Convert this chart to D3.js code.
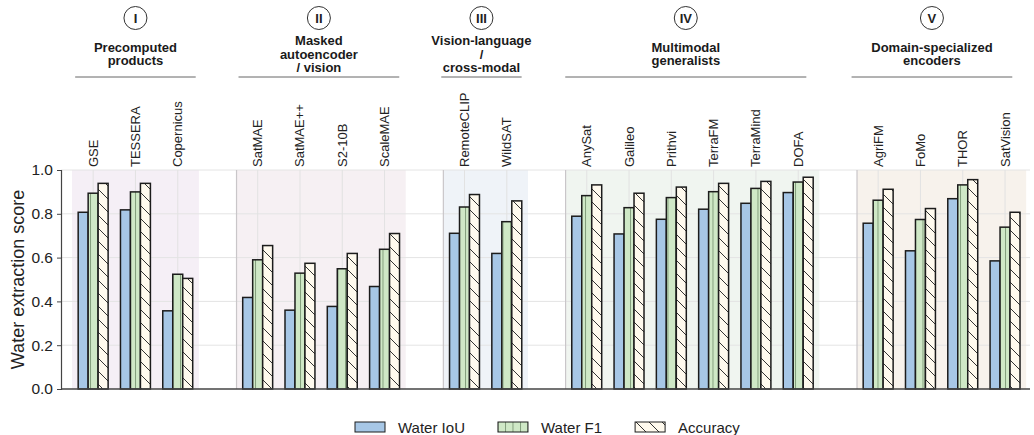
<!DOCTYPE html>
<html>
<head>
<meta charset="utf-8">
<script src="https://cdn.jsdelivr.net/npm/d3@7"></script>
<style>
  html, body { margin: 0; padding: 0; background: #fff; }
  svg { display: block; font-family: "Liberation Sans", Arial, Helvetica, sans-serif; }
</style>
</head>
<body>
<svg id="chart" width="1034" height="435"></svg>
<script>
// ---- data -------------------------------------------------------------
const groupNumerals = ["I", "II", "III", "IV", "V"];
const groupTitles = [
  ["Precomputed", "products"],
  ["Masked", "autoencoder", "/ vision"],
  ["Vision-language", "/", "cross-modal"],
  ["Multimodal", "generalists"],
  ["Domain-specialized", "encoders"]
];
const models = ["GSE", "TESSERA", "Copernicus",
  "SatMAE", "SatMAE++", "S2-10B", "ScaleMAE",
  "RemoteCLIP", "WildSAT",
  "AnySat", "Galileo", "Prithvi", "TerraFM", "TerraMind", "DOFA",
  "AgriFM", "FoMo", "THOR", "SatVision"];
const modelGroup = [0, 0, 0, 1, 1, 1, 1, 2, 2, 3, 3, 3, 3, 3, 3, 4, 4, 4, 4];
const waterIoU = [0.807, 0.818, 0.357, 0.418, 0.360, 0.377, 0.468, 0.711, 0.619,
  0.789, 0.708, 0.775, 0.821, 0.848, 0.897, 0.757, 0.631, 0.869, 0.585];
const waterF1 = [0.894, 0.900, 0.524, 0.590, 0.529, 0.549, 0.638, 0.831, 0.764,
  0.883, 0.828, 0.874, 0.901, 0.916, 0.945, 0.862, 0.774, 0.932, 0.739];
const accuracy = [0.939, 0.939, 0.505, 0.655, 0.574, 0.619, 0.710, 0.888, 0.859,
  0.932, 0.894, 0.922, 0.939, 0.948, 0.967, 0.912, 0.824, 0.956, 0.807];
const seriesNames = ["Water IoU", "Water F1", "Accuracy"];
const yTicks = [0.0, 0.2, 0.4, 0.6, 0.8, 1.0];

// ---- styling ----------------------------------------------------------
const bandColors = ["#f5eff6", "#f6f0f3", "#eff3f8", "#f0f5f0", "#f7f2ec"];
const seriesFill = ["#a7c7e6", "#cfe8c6", "#fffaee"];
const GAP = 0.89;      // blank space between groups, in category slots
const BAR_W = 0.236;   // width of one bar, in category slots

const svg = d3.select("#chart");
const margin = { left: 61, right: 4, top: 170, bottom: 46 };
const W = 1034, H = 435;

// ---- layout in slot units ---------------------------------------------
const centers = models.map((m, i) => i + modelGroup[i] * GAP + 0.5);
const groups = groupNumerals.map((g, gi) => {
  const idx = models.map((m, i) => i).filter(i => modelGroup[i] === gi);
  const start = idx[0] + gi * GAP;
  return { gi, start, end: start + idx.length };
});

const x = d3.scaleLinear()
  .domain([-0.26, 22.65])
  .range([margin.left, W - margin.right]);
const y = d3.scaleLinear()
  .domain([0, 1])
  .range([H - margin.bottom, margin.top]);

// ---- patterns ---------------------------------------------------------
const defs = svg.append("defs");
const pF1 = defs.append("pattern").attr("id", "hatch-f1")
  .attr("patternUnits", "userSpaceOnUse").attr("width", 7.5).attr("height", 10);
pF1.append("rect").attr("width", 7.5).attr("height", 10).attr("fill", seriesFill[1]);
pF1.append("line").attr("x1", 0.5).attr("x2", 0.5).attr("y1", 0).attr("y2", 10)
  .attr("stroke", "#6f8a68").attr("stroke-width", 0.8);

const T = 13;
const pAcc = defs.append("pattern").attr("id", "hatch-acc")
  .attr("patternUnits", "userSpaceOnUse").attr("width", T).attr("height", T);
pAcc.append("rect").attr("width", T).attr("height", T).attr("fill", seriesFill[2]);
pAcc.append("path")
  .attr("d", `M0,0L${T},${T}M${T - 1},-1L${T + 1},1M-1,${T - 1}L1,${T + 1}`)
  .attr("stroke", "#333").attr("stroke-width", 1);

const fills = [seriesFill[0], "url(#hatch-f1)", "url(#hatch-acc)"];

// ---- background bands --------------------------------------------------
const plot = svg.append("g");
plot.selectAll("rect.band").data(groups).join("rect")
  .attr("class", "band")
  .attr("x", d => x(d.start))
  .attr("width", d => x(d.end) - x(d.start))
  .attr("y", y(1))
  .attr("height", y(0) - y(1))
  .attr("fill", d => bandColors[d.gi]);

// horizontal grid
plot.selectAll("line.hgrid").data(yTicks.slice(1)).join("line")
  .attr("class", "hgrid")
  .attr("x1", margin.left).attr("x2", W - margin.right)
  .attr("y1", d => y(d)).attr("y2", d => y(d))
  .attr("stroke", "#e4e4e4").attr("stroke-width", 1);

// vertical grid at each model
plot.selectAll("line.vgrid").data(centers).join("line")
  .attr("class", "vgrid")
  .attr("x1", d => x(d)).attr("x2", d => x(d))
  .attr("y1", y(1)).attr("y2", y(0))
  .attr("stroke", "#e2e2e2").attr("stroke-width", 1);

// group separators
plot.selectAll("line.sep").data(groups.slice(1)).join("line")
  .attr("class", "sep")
  .attr("x1", d => x(d.start)).attr("x2", d => x(d.start))
  .attr("y1", y(1)).attr("y2", y(0))
  .attr("stroke", "#c9c6c9").attr("stroke-width", 1.2);

// ---- bars -------------------------------------------------------------
const series = [waterIoU, waterF1, accuracy];
series.forEach((vals, si) => {
  plot.append("g").selectAll("rect").data(vals).join("rect")
    .attr("x", (v, i) => x(centers[i] + (si - 1.5) * BAR_W))
    .attr("width", x(BAR_W) - x(0))
    .attr("y", v => y(v))
    .attr("height", v => y(0) - y(v))
    .attr("fill", fills[si])
    .attr("stroke", "#1c1c1c")
    .attr("stroke-width", 1.5);
});

// ---- axes -------------------------------------------------------------
const yAxis = svg.append("g")
  .attr("transform", `translate(${margin.left},0)`)
  .call(d3.axisLeft(y).tickValues(yTicks).tickFormat(d3.format(".1f"))
    .tickSize(4).tickPadding(4));
yAxis.select(".domain").attr("stroke", "#444").attr("stroke-width", 1.2);
yAxis.selectAll(".tick line").attr("stroke", "#444");
yAxis.selectAll(".tick text").attr("font-size", 15.5).attr("fill", "#222")
  .attr("font-family", "Liberation Sans, Arial, sans-serif");

svg.append("line")
  .attr("x1", margin.left).attr("x2", W - margin.right)
  .attr("y1", y(0)).attr("y2", y(0))
  .attr("stroke", "#444").attr("stroke-width", 1.4);

svg.append("text")
  .attr("transform", `translate(18,${(y(0) + y(1)) / 2}) rotate(-90)`)
  .attr("text-anchor", "middle").attr("dominant-baseline", "central")
  .attr("font-size", 18).attr("fill", "#222")
  .text("Water extraction score");

// model names, rotated
svg.append("g").selectAll("text").data(models).join("text")
  .attr("transform", (m, i) => `translate(${x(centers[i])},${y(1) - 3}) rotate(-90)`)
  .attr("text-anchor", "start").attr("dominant-baseline", "central")
  .attr("font-size", 13).attr("fill", "#222")
  .text(m => m);

// ---- group headers ----------------------------------------------------
// header row spans a slightly narrower width than the plot
const c0 = (x(groups[0].start) + x(groups[0].end)) / 2;
const hx = c => c0 + (c - c0) * 0.988;
const head = svg.append("g").selectAll("g").data(groups).join("g")
  .attr("transform", d => `translate(${hx((x(d.start) + x(d.end)) / 2)},0)`);

head.append("circle").attr("cx", 0).attr("cy", 18).attr("r", 11.5)
  .attr("fill", "none").attr("stroke", "#333").attr("stroke-width", 1);
head.append("text").attr("x", 0).attr("y", 18)
  .attr("text-anchor", "middle").attr("dominant-baseline", "central")
  .attr("font-size", 13).attr("font-weight", "bold").attr("fill", "#222")
  .text(d => groupNumerals[d.gi]);

head.each(function (d) {
  const lines = groupTitles[d.gi];
  const lh = 13.5;
  const mid = 53.5;
  // one multi-line text block per group title
  const t = d3.select(this).append("text")
    .attr("class", "title")
    .attr("text-anchor", "middle").attr("dominant-baseline", "central")
    .attr("font-size", 13).attr("font-weight", "bold").attr("fill", "#1a1a1a");
  t.selectAll("tspan").data(lines).join("tspan")
    .attr("x", 0)
    .attr("y", (l, k) => mid + (k - (lines.length - 1) / 2) * lh)
    .text(l => l);
  const half = (x(d.end) - x(d.start)) / 2 * 0.95;
  d3.select(this).append("line")
    .attr("x1", -half).attr("x2", half).attr("y1", 77).attr("y2", 77)
    .attr("stroke", "#666").attr("stroke-width", 1);
});

// ---- legend -----------------------------------------------------------
const legend = svg.append("g").attr("transform", "translate(355,427)");
let lx = 0;
seriesNames.forEach((name, si) => {
  legend.append("rect")
    .attr("x", lx).attr("y", -5).attr("width", 30).attr("height", 10)
    .attr("fill", fills[si]).attr("stroke", "#1c1c1c").attr("stroke-width", 1);
  const t = legend.append("text")
    .attr("x", lx + 43).attr("y", 0)
    .attr("dominant-baseline", "central")
    .attr("font-size", 15).attr("fill", "#222")
    .text(name);
  lx += 43 + t.node().getComputedTextLength() + 33;
});
</script>
</body>
</html>
